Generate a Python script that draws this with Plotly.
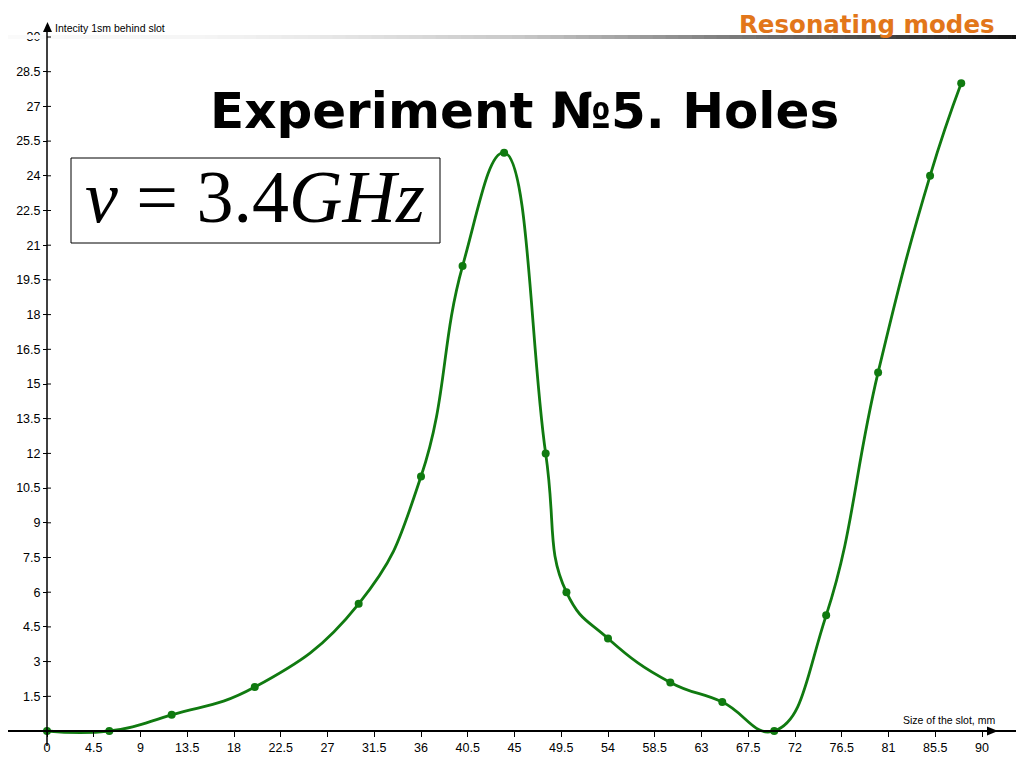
import plotly.graph_objects as go

# ---- data ----
slot_mm = [0, 6, 12, 20, 30, 36, 40, 44, 48, 50, 54, 60, 65, 70, 75, 80, 85, 88]
intensity = [0, 0, 0.7, 1.9, 5.5, 11, 20.1, 25, 12, 6, 4, 2.1, 1.25, 0, 5, 15.5, 24, 28]

x_ticks = [i * 4.5 for i in range(21)]
x_tick_labels = ["0", "4.5", "9", "13.5", "18", "22.5", "27", "31.5", "36", "40.5", "45",
                 "49.5", "54", "58.5", "63", "67.5", "72", "76.5", "81", "85.5", "90"]
y_ticks = [i * 1.5 for i in range(1, 21)]
y_tick_labels = ["1.5", "3", "4.5", "6", "7.5", "9", "10.5", "12", "13.5", "15", "16.5",
                 "18", "19.5", "21", "22.5", "24", "25.5", "27", "28.5", "30"]

OFF = 8  # browser body margin
W, H = 1024 - OFF, 768 - OFF


def px(x):
    return (x - OFF) / W


def py(y):
    return 1 - (y - OFF) / H


X0PX, Y0PX = 47, 731          # pixel position of the origin in the page
XSCALE, YSCALE = 10.3889, 23.1333

fig = go.Figure()
fig.add_trace(go.Scatter(
    x=slot_mm, y=intensity, mode="lines+markers",
    line=dict(color="#107a10", width=2.8, shape="spline", smoothing=1.3),
    marker=dict(color="#107a10", size=8),
    showlegend=False, hoverinfo="skip",
))

shapes = []
# header gradient bar
stops = [(0, 250), (200, 245), (320, 232), (520, 200), (720, 128), (1024, 15)]


def grey(x):
    for (xa, ga), (xb, gb) in zip(stops[:-1], stops[1:]):
        if xa <= x <= xb:
            return ga + (gb - ga) * (x - xa) / (xb - xa)
    return stops[-1][1]


n = 80
for i in range(n):
    xa = 1024 * i / n
    xb = 1024 * (i + 1) / n + 0.6
    g = int(round(grey((xa + xb) / 2)))
    shapes.append(dict(type="rect", xref="paper", yref="paper",
                       x0=px(xa), x1=px(xb), y0=py(39), y1=py(35),
                       fillcolor=f"rgb({g},{g},{g})", line=dict(width=0), layer="above"))
# y axis line
shapes.append(dict(type="line", xref="paper", yref="paper",
                   x0=px(47), x1=px(47), y0=py(30), y1=py(746),
                   line=dict(color="black", width=1.5)))
# inner half of the crossing y ticks
for t in y_ticks:
    shapes.append(dict(type="line", xref="paper", yref="y",
                       x0=px(47), x1=px(51), y0=t, y1=t,
                       line=dict(color="black", width=1)))
# arrows
shapes.append(dict(type="path", xref="paper", yref="paper",
                   path=f"M {px(47.5)},{py(22)} L {px(43)},{py(32)} L {px(52)},{py(32)} Z",
                   fillcolor="black", line=dict(width=0)))
shapes.append(dict(type="path", xref="paper", yref="paper",
                   path=f"M {px(998)},{py(731)} L {px(987)},{py(726.5)} L {px(987)},{py(735.5)} Z",
                   fillcolor="black", line=dict(width=0)))
# formula box
shapes.append(dict(type="rect", xref="paper", yref="paper",
                   x0=px(71), x1=px(440), y0=py(243), y1=py(158),
                   fillcolor="white", line=dict(color="black", width=1), layer="above"))

annotations = [
    dict(text="Resonating modes", xref="paper", yref="paper", x=px(997), y=py(8.5),
         xanchor="right", yanchor="top", showarrow=False,
         font=dict(family="DejaVu Sans", size=24.5, color="#e2761a", weight="bold")),
    dict(text="<b>Experiment №5. Holes</b>", xref="paper", yref="paper", x=px(524), y=py(111),
         xanchor="center", yanchor="middle", showarrow=False,
         font=dict(family="DejaVu Sans", size=50, color="black")),
    dict(text="<i>ν</i> = 3.4<i>GHz</i>", xref="paper", yref="paper", x=px(255), y=py(197),
         xanchor="center", yanchor="middle", showarrow=False,
         font=dict(family="Liberation Serif", size=74, color="black")),
    dict(text="Intecity 1sm behind slot", xref="paper", yref="paper", x=px(53), y=py(28),
         xanchor="left", yanchor="middle", showarrow=False,
         font=dict(family="Liberation Sans", size=10.5, color="black")),
    dict(text="Size of the slot, mm", xref="paper", yref="paper", x=px(997), y=py(720),
         xanchor="right", yanchor="middle", showarrow=False,
         font=dict(family="Liberation Sans", size=10.5, color="black")),
]

fig.update_layout(
    width=W, height=H,
    margin=dict(l=0, r=0, t=0, b=0),
    paper_bgcolor="white", plot_bgcolor="white",
    xaxis=dict(range=[-(X0PX - OFF) / XSCALE, (1024 - X0PX) / XSCALE], anchor="free",
               position=(768 - Y0PX) / H,
               tickvals=x_ticks, ticktext=x_tick_labels, showgrid=False, zeroline=False,
               showline=True, linecolor="black", linewidth=2, ticks="outside", ticklen=5,
               tickcolor="black", tickfont=dict(family="Liberation Sans", size=12.5, color="black")),
    yaxis=dict(range=[-(768 - Y0PX) / YSCALE, (Y0PX - OFF) / YSCALE], anchor="free",
               position=(X0PX - OFF) / W,
               tickvals=y_ticks, ticktext=y_tick_labels, showgrid=False, zeroline=False,
               showline=False, ticks="outside", ticklen=4, tickcolor="black",
               tickfont=dict(family="Liberation Sans", size=12.5, color="black")),
    shapes=shapes,
    annotations=annotations,
)

fig.write_html("out.html")
